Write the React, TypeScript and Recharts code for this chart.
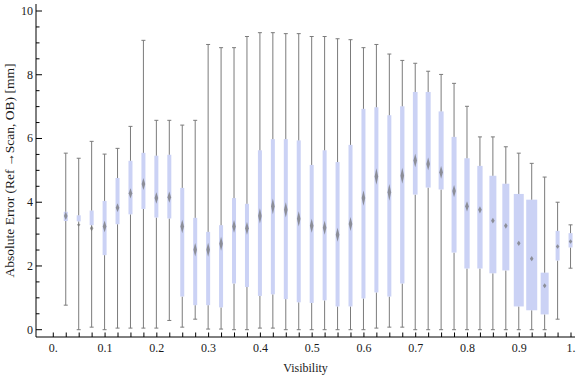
import { Bar, ComposedChart, XAxis, YAxis } from "recharts";

// visibility bins (x) and box-whisker statistics
const visibility = [
  0.025, 0.05, 0.075, 0.1, 0.125, 0.15, 0.175, 0.2, 0.225, 0.25,
  0.275, 0.3, 0.325, 0.35, 0.375, 0.4, 0.425, 0.45, 0.475, 0.5,
  0.525, 0.55, 0.575, 0.6, 0.625, 0.65, 0.675, 0.7, 0.725, 0.75,
  0.775, 0.8, 0.825, 0.85, 0.875, 0.9, 0.925, 0.95, 0.975, 1.0,
];
const whiskerLow = [
  0.77, 0.0, 0.08, 0.0, 0.05, 0.05, 0.05, 0.05, 0.29, 0.08,
  0.33, 0.02, 0.02, 0.0, 0.0, 0.05, 0.05, 0.0, 0.0, 0.0,
  0.0, 0.0, 0.0, 0.0, 0.05, 0.08, 0.08, 0.0, 0.0, 0.0,
  0.0, 0.0, 0.0, 0.0, 0.0, 0.0, 0.0, 0.0, 0.33, 1.93,
];
const quartile1 = [
  3.41, 3.4, 3.28, 2.34, 3.31, 3.62, 3.79, 3.52, 3.49, 1.04,
  0.77, 0.77, 0.7, 1.45, 1.34, 1.06, 1.11, 0.96, 0.86, 0.84,
  0.92, 0.73, 0.73, 0.98, 1.17, 1.04, 1.45, 4.24, 4.46, 4.4,
  2.42, 1.92, 1.92, 1.77, 1.86, 0.73, 0.61, 0.48, 2.17, 2.58,
];
const meanError = [
  3.57, 3.29, 3.18, 3.24, 3.83, 4.28, 4.57, 4.13, 4.16, 3.24,
  2.51, 2.51, 2.7, 3.24, 3.18, 3.57, 3.87, 3.76, 3.48, 3.26,
  3.2, 2.98, 3.32, 4.13, 4.81, 4.31, 4.83, 5.31, 5.2, 4.94,
  4.35, 3.87, 3.76, 3.42, 3.26, 2.71, 2.23, 1.38, 2.61, 2.77,
];
const quartile3 = [
  3.7, 3.59, 3.74, 4.04, 4.76, 5.3, 5.55, 5.46, 5.49, 4.45,
  3.51, 3.07, 3.28, 4.13, 3.95, 5.63, 5.98, 5.98, 5.94, 5.17,
  5.63, 5.26, 5.8, 6.93, 6.98, 6.73, 7.01, 7.46, 7.46, 6.85,
  6.05, 5.38, 5.14, 4.83, 4.58, 4.26, 4.08, 1.79, 3.1, 3.03,
];
const whiskerHigh = [
  5.54, 5.38, 5.91, 5.51, 5.69, 6.38, 9.08, 6.57, 6.57, 6.42,
  6.57, 8.95, 8.85, 8.85, 9.2, 9.32, 9.32, 9.29, 9.29, 9.2,
  9.2, 9.13, 9.1, 8.85, 8.95, 8.65, 8.45, 8.36, 8.11, 8.01,
  7.73, 7.01, 6.05, 6.05, 5.74, 5.54, 5.22, 4.79, 4.0, 3.29,
];
// half-height of the mean confidence diamond
const meanSpread = [
  0.13, 0.05, 0.09, 0.18, 0.14, 0.16, 0.19, 0.18, 0.18, 0.21,
  0.21, 0.22, 0.22, 0.2, 0.2, 0.24, 0.25, 0.24, 0.24, 0.22,
  0.22, 0.22, 0.22, 0.24, 0.26, 0.26, 0.25, 0.21, 0.2, 0.2,
  0.19, 0.16, 0.11, 0.09, 0.09, 0.08, 0.08, 0.08, 0.07, 0.07,
];

const xTicks = [
  0, 0.025, 0.05, 0.075, 0.1, 0.125, 0.15, 0.175, 0.2, 0.225, 0.25,
  0.275, 0.3, 0.325, 0.35, 0.375, 0.4, 0.425, 0.45, 0.475, 0.5,
  0.525, 0.55, 0.575, 0.6, 0.625, 0.65, 0.675, 0.7, 0.725, 0.75,
  0.775, 0.8, 0.825, 0.85, 0.875, 0.9, 0.925, 0.95, 0.975, 1.0,
];
const xLabels = ["0.", "0.1", "0.2", "0.3", "0.4", "0.5", "0.6", "0.7", "0.8", "0.9", "1."];
const yTicks = [
  0, 0.5, 1, 1.5, 2, 2.5, 3, 3.5, 4, 4.5, 5, 5.5, 6, 6.5, 7, 7.5, 8, 8.5, 9, 9.5, 10,
];
const yLabels = [0, 2, 4, 6, 8, 10];

// box widths in px (the boxes get wider towards high visibility)
const boxWidthPx = [
  4, 4, 4, 4, 4, 4, 4, 4, 4, 4, 4, 4, 4, 4, 4, 4, 4, 4, 4, 4,
  4, 4, 4, 4, 4, 4, 4.3, 4.7, 5, 5, 5, 5.3, 5.3, 7, 7, 10, 11, 8, 4, 4,
];

const rows = visibility.map((v, i) => ({
  visibility: v,
  base: whiskerLow[i],
  lower: quartile1[i] - whiskerLow[i],
  box: quartile3[i] - quartile1[i],
  upper: whiskerHigh[i] - quartile3[i],
  q1: quartile1[i],
  q3: quartile3[i],
  mean: meanError[i],
  spread: meanSpread[i],
}));

const FONT = "'Liberation Serif', 'Times New Roman', serif";
const WHISKER = "#7b7b7b";
const BOX = "#cbd2f5";
const TEXT = "#1a1a1a";

function LowerWhisker(props: any) {
  const { x, y, width, height } = props;
  if (x == null || height == null) return null;
  const cx = x + width / 2;
  return (
    <g>
      <line x1={cx} x2={cx} y1={y} y2={y + height} stroke={WHISKER} />
      <line x1={cx - 2} x2={cx + 2} y1={y + height} y2={y + height} stroke={WHISKER} />
    </g>
  );
}

function UpperWhisker(props: any) {
  const { x, y, width, height } = props;
  if (x == null || height == null) return null;
  const cx = x + width / 2;
  return (
    <g>
      <line x1={cx} x2={cx} y1={y} y2={y + height} stroke={WHISKER} />
      <line x1={cx - 2} x2={cx + 2} y1={y} y2={y} stroke={WHISKER} />
    </g>
  );
}

function BoxShape(props: any) {
  const { x, y, width, height, payload } = props;
  if (x == null || !payload) return null;
  const i = visibility.indexOf(payload.visibility);
  const w = boxWidthPx[i] ?? 4;
  const cx = x + width / 2;
  const unit = height / (payload.q3 - payload.q1);
  const my = y + (payload.q3 - payload.mean) * unit;
  const mh = payload.spread * unit;
  const mw = 1.8;
  return (
    <g>
      <rect x={cx - w / 2} y={y} width={w} height={height} fill={BOX} />
      <polygon
        points={`${cx},${my - mh} ${cx + mw},${my} ${cx},${my + mh} ${cx - mw},${my}`}
        fill="#707070"
        fillOpacity={0.7}
      />
    </g>
  );
}

function BottomTick(props: any) {
  const { x, y, payload } = props;
  const idx = Math.round(payload.value * 40);
  const label = idx % 4 === 0 ? xLabels[idx / 4] : null;
  return (
    <g>
      <line x1={x} x2={x} y1={y} y2={y - 4.5} stroke="#000" />
      {label && (
        <text x={x} y={y + 15} textAnchor="middle" fontFamily={FONT} fontSize={12} fill={TEXT}>
          {label}
        </text>
      )}
    </g>
  );
}

function TopTick(props: any) {
  const { x, y } = props;
  return <line x1={x} x2={x} y1={y} y2={y + 4.5} stroke="#000" />;
}

function LeftTick(props: any) {
  const { x, y, payload } = props;
  const major = yLabels.includes(payload.value);
  return (
    <g>
      <line x1={x} x2={x + (major ? 6 : 3.5)} y1={y} y2={y} stroke="#000" />
      {major && (
        <text x={x - 3} y={y + 4} textAnchor="end" fontFamily={FONT} fontSize={12} fill={TEXT}>
          {payload.value}
        </text>
      )}
    </g>
  );
}

function RightTick(props: any) {
  const { x, y, payload } = props;
  const major = yLabels.includes(payload.value);
  return <line x1={x} x2={x - (major ? 6 : 3.5)} y1={y} y2={y} stroke="#000" />;
}

function YTitle(props: any) {
  const vb = props.viewBox;
  const cx = 14;
  const cy = vb.y + vb.height / 2;
  return (
    <text
      x={cx}
      y={cy}
      transform={`rotate(-90, ${cx}, ${cy})`}
      textAnchor="middle"
      fontFamily={FONT}
      fontSize={13.5}
      fill={TEXT}
    >
      Absolute Error (Ref{"\u2009\u2192"}Scan, OB) [mm]
    </text>
  );
}

function XTitle(props: any) {
  const vb = props.viewBox;
  return (
    <text
      x={vb.x + vb.width / 2}
      y={372}
      textAnchor="middle"
      fontFamily={FONT}
      fontSize={12}
      fill={TEXT}
    >
      Visibility
    </text>
  );
}

const xDomain = [-0.0334, 1.0077];
const yDomain = [-0.229, 10.22];

export default function App() {
  return (
    <div style={{ position: "absolute", left: 0, top: 0, width: 576, height: 377, background: "#fff" }}>
      <ComposedChart
        width={576}
        height={377}
        data={rows}
        margin={{ top: 4, right: 1, bottom: 0, left: 0 }}
      >
        <XAxis
          dataKey="visibility"
          type="number"
          domain={xDomain}
          allowDataOverflow
          ticks={xTicks}
          interval={0}
          height={40}
          tickSize={0}
          tickMargin={0}
          tickLine={false}
          axisLine={{ stroke: "#000" }}
          tick={<BottomTick />}
          label={<XTitle />}
        />
        <XAxis
          xAxisId="top"
          dataKey="visibility"
          type="number"
          orientation="top"
          domain={xDomain}
          allowDataOverflow
          ticks={xTicks}
          interval={0}
          height={0}
          tickSize={0}
          tickMargin={0}
          tickLine={false}
          axisLine={{ stroke: "#000" }}
          tick={<TopTick />}
        />
        <YAxis
          type="number"
          domain={yDomain}
          allowDataOverflow
          ticks={yTicks}
          interval={0}
          width={36}
          tickSize={0}
          tickMargin={0}
          tickLine={false}
          axisLine={{ stroke: "#000" }}
          tick={<LeftTick />}
          label={<YTitle />}
        />
        <YAxis
          yAxisId="right"
          type="number"
          orientation="right"
          domain={yDomain}
          allowDataOverflow
          ticks={yTicks}
          interval={0}
          width={0}
          tickSize={0}
          tickMargin={0}
          tickLine={false}
          axisLine={{ stroke: "#000" }}
          tick={<RightTick />}
        />
        <Bar dataKey="base" stackId="s" fill="transparent" barSize={12} isAnimationActive={false} />
        <Bar dataKey="lower" stackId="s" barSize={12} shape={<LowerWhisker />} isAnimationActive={false} />
        <Bar dataKey="box" stackId="s" barSize={12} shape={<BoxShape />} isAnimationActive={false} />
        <Bar dataKey="upper" stackId="s" barSize={12} shape={<UpperWhisker />} isAnimationActive={false} />
      </ComposedChart>
    </div>
  );
}
